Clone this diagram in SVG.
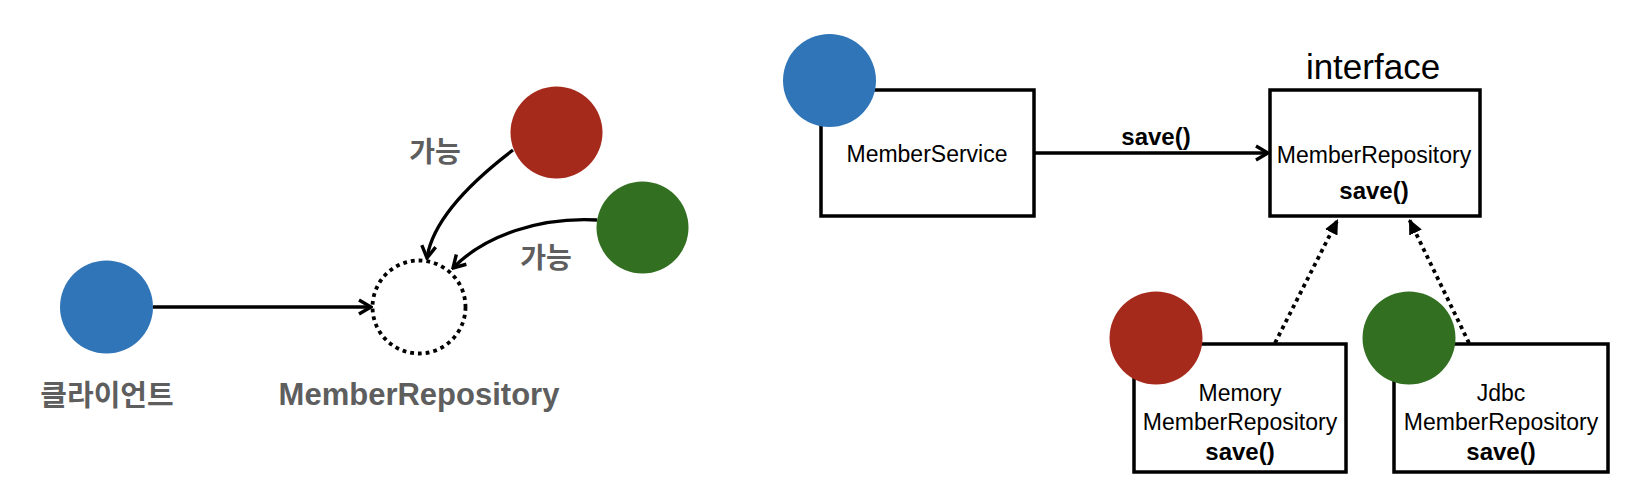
<svg xmlns="http://www.w3.org/2000/svg" width="1652" height="502" viewBox="0 0 1652 502">
<style>
.box{fill:#fff;stroke:#000;stroke-width:3.5}
.blue{fill:#3075B7}
.red{fill:#A52A1B}
.green{fill:#326F21}
.t{font-family:"Liberation Sans",Arial,sans-serif;fill:#000;text-anchor:middle}
.n{font-size:23px}
.b{font-size:24px;font-weight:bold}
.g{font-family:"Liberation Sans","Noto Sans CJK KR",sans-serif;fill:#5E5E5E;font-weight:bold;text-anchor:middle}
.line{fill:none;stroke:#000;stroke-width:3.3}
.dot{fill:none;stroke:#000;stroke-width:3.8;stroke-dasharray:3.8 4}
</style>
<defs>
<marker id="open" viewBox="0 0 18 18" refX="16" refY="9" markerWidth="18" markerHeight="18" orient="auto" markerUnits="userSpaceOnUse">
<path d="M4,2 L16,9 L4,16" fill="none" stroke="#000" stroke-width="3.4"/>
</marker>
<marker id="tri" viewBox="0 0 16 14" refX="15" refY="7" markerWidth="16" markerHeight="14" orient="auto" markerUnits="userSpaceOnUse">
<path d="M0,0 L15,7 L0,14 z" fill="#000"/>
</marker>
</defs>

<g id="connectors">
<line class="line" x1="153" y1="307" x2="371" y2="307" marker-end="url(#open)"/>
<path class="line" d="M513,150 Q434,210 427,258" marker-end="url(#open)"/>
<path class="line" d="M597,220 C540,217 485,235 453,268" marker-end="url(#open)"/>
<line class="line" x1="1035" y1="153" x2="1268" y2="153" marker-end="url(#open)"/>
<line class="dot" x1="1275" y1="343" x2="1338" y2="219" marker-end="url(#tri)"/>
<line class="dot" x1="1469" y1="343" x2="1409" y2="219" marker-end="url(#tri)"/>
</g>

<g id="label-kaneung1"><text class="g" x="435" y="162" font-size="28">가능</text></g>
<g id="label-kaneung2"><text class="g" x="546" y="268" font-size="28">가능</text></g>
<g id="label-save"><text class="t b" x="1156" y="145">save()</text></g>

<g id="client">
<circle class="blue" cx="106.5" cy="307" r="46.5"/>
<text class="g" x="107" y="406" font-size="29">클라이언트</text>
</g>

<g id="repo-placeholder">
<circle class="dot" cx="419" cy="307" r="46.5"/>
<text class="g" x="419" y="405" font-size="31">MemberRepository</text>
</g>

<g id="impl-red"><circle class="red" cx="556.5" cy="132.5" r="46"/></g>
<g id="impl-green"><circle class="green" cx="642.5" cy="227.5" r="46"/></g>

<g id="member-service">
<rect class="box" x="821" y="90" width="213" height="126"/>
<circle class="blue" cx="829.5" cy="80.5" r="46.5"/>
<text class="t n" x="927" y="162">MemberService</text>
</g>

<g id="member-repository">
<text class="t" x="1373" y="79" font-size="35">interface</text>
<rect class="box" x="1270" y="90" width="210" height="126"/>
<text class="t n" x="1374" y="163">MemberRepository</text>
<text class="t b" x="1374" y="199">save()</text>
</g>

<g id="memory-repository">
<rect class="box" x="1134" y="344" width="212" height="128"/>
<circle class="red" cx="1156" cy="338" r="46.5"/>
<text class="t n" x="1240" y="401">Memory</text>
<text class="t n" x="1240" y="430">MemberRepository</text>
<text class="t b" x="1240" y="460">save()</text>
</g>

<g id="jdbc-repository">
<rect class="box" x="1394" y="344" width="214" height="128"/>
<circle class="green" cx="1409" cy="338" r="46.5"/>
<text class="t n" x="1501" y="401">Jdbc</text>
<text class="t n" x="1501" y="430">MemberRepository</text>
<text class="t b" x="1501" y="460">save()</text>
</g>
</svg>
